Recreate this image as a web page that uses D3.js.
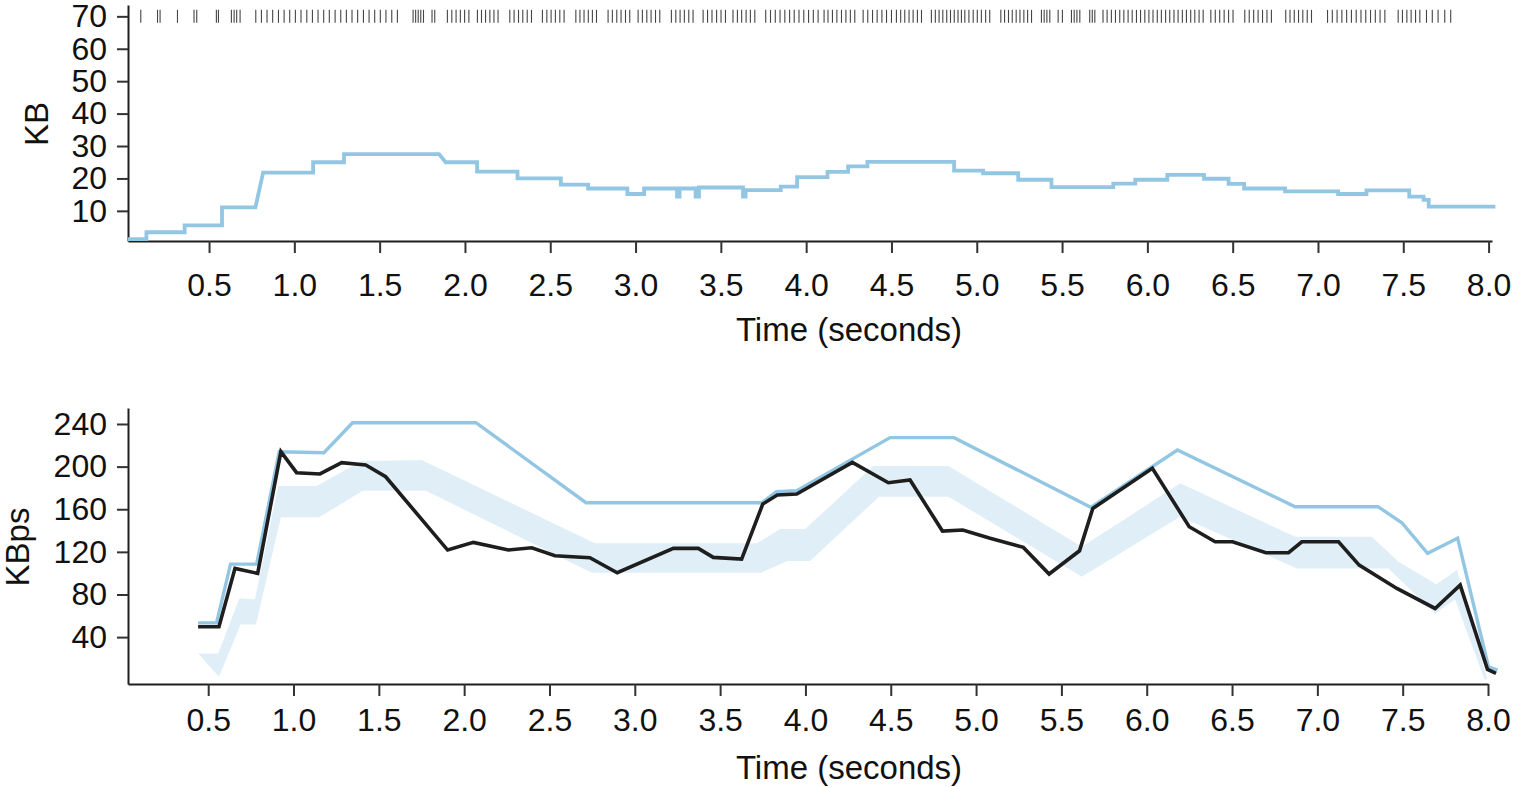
<!DOCTYPE html>
<html lang="en">
<head>
<meta charset="UTF-8">
<title>KB and KBps over time</title>
<style>
  body { margin: 0; background: #fff; }
  text { font-family: "Liberation Sans", Arial, Helvetica, sans-serif; fill: #111; }
</style>
</head>
<body>
<script src="https://d3js.org/d3.v7.min.js"></script>
<div id="chart"></div>
<script>
// ---- values ----
var timeTicks = [0.5, 1.0, 1.5, 2.0, 2.5, 3.0, 3.5, 4.0, 4.5, 5.0, 5.5, 6.0, 6.5, 7.0, 7.5, 8.0];
var kbTicks = [10, 20, 30, 40, 50, 60, 70];
var kbpsTicks = [40, 80, 120, 160, 200, 240];

// top panel: buffered KB (path vertices)
var kbTime = [0.025, 0.133, 0.133, 0.357, 0.357, 0.576, 0.576, 0.772, 0.817, 1.110, 1.110, 1.291, 1.291, 1.848, 1.887,
  2.071, 2.071, 2.308, 2.308, 2.562, 2.562, 2.722, 2.722, 2.952, 2.952, 3.050, 3.050, 3.243, 3.243, 3.258, 3.258,
  3.352, 3.352, 3.372, 3.372, 3.630, 3.630, 3.645, 3.645, 3.851, 3.851, 3.947, 3.947, 4.125, 4.125, 4.246, 4.246,
  4.359, 4.359, 4.867, 4.867, 5.037, 5.037, 5.243, 5.243, 5.438, 5.438, 5.800, 5.800, 5.929, 5.929, 6.117, 6.117,
  6.332, 6.332, 6.476, 6.476, 6.567, 6.567, 6.807, 6.807, 7.118, 7.118, 7.284, 7.284, 7.535, 7.535, 7.619, 7.619,
  7.649, 7.649, 8.040];
var kbSize = [1.3, 1.3, 3.4, 3.4, 5.5, 5.5, 11.1, 11.1, 21.8, 21.8, 25.0, 25.0, 27.5, 27.5, 25.0,
  25.0, 22.1, 22.1, 20.0, 20.0, 18.1, 18.1, 16.9, 16.9, 15.2, 15.2, 16.9, 16.9, 14.4, 14.4, 16.9,
  16.9, 14.4, 14.4, 17.2, 17.2, 14.4, 14.4, 16.4, 16.4, 17.5, 17.5, 20.4, 20.4, 22.0, 22.0, 23.7,
  23.7, 25.1, 25.1, 22.4, 22.4, 21.6, 21.6, 19.6, 19.6, 17.3, 17.3, 18.4, 18.4, 19.6, 19.6, 21.1,
  21.1, 19.9, 19.9, 18.3, 18.3, 16.9, 16.9, 16.0, 16.0, 15.2, 15.2, 16.3, 16.3, 14.4, 14.4, 13.4,
  13.4, 11.3, 11.3];

// top panel: packet arrival times (rug)
var rugTime = [0.100, 0.198, 0.213, 0.315, 0.412, 0.428, 0.543, 0.555, 0.631, 0.647, 0.662, 0.682,
  0.774, 0.807, 0.840, 0.873, 0.907, 0.940, 0.973, 1.006, 1.039, 1.073, 1.106, 1.139, 1.172, 1.205, 1.239,
  1.272, 1.305, 1.338, 1.371, 1.405, 1.438, 1.471, 1.504, 1.537, 1.571, 1.604,
  1.696, 1.711, 1.726, 1.741, 1.757, 1.807, 1.823,
  1.897, 1.923, 1.948, 1.973, 1.998, 2.023,
  2.073, 2.097, 2.121, 2.146, 2.170, 2.194,
  2.263, 2.288, 2.314, 2.339, 2.365, 2.390,
  2.454, 2.480, 2.505, 2.530, 2.556, 2.581,
  2.650, 2.674, 2.698, 2.723, 2.747, 2.771,
  2.839, 2.864, 2.890, 2.915, 2.941, 2.966,
  3.015, 3.040, 3.066, 3.091, 3.117, 3.142,
  3.210, 3.236, 3.261, 3.286, 3.312, 3.337,
  3.396, 3.422, 3.448, 3.475, 3.501, 3.527,
  3.571, 3.597, 3.622, 3.648, 3.673, 3.699,
  3.763, 3.791, 3.819, 3.847, 3.875, 3.903, 3.930, 3.958, 3.986, 4.014, 4.042, 4.070, 4.105,
  4.128, 4.154, 4.180, 4.207, 4.233, 4.259, 4.285,
  4.334, 4.361, 4.389, 4.416, 4.444, 4.471, 4.500,
  4.529, 4.554, 4.578, 4.603, 4.627, 4.652, 4.676,
  4.734, 4.757, 4.779, 4.801, 4.824, 4.846, 4.868, 4.890, 4.910,
  4.930, 4.954, 4.979, 5.003, 5.027, 5.052, 5.076,
  5.141, 5.163, 5.186, 5.208, 5.231, 5.253, 5.276, 5.298, 5.321,
  5.379, 5.395, 5.411, 5.428, 5.477, 5.502,
  5.555, 5.571, 5.587, 5.604, 5.662, 5.677, 5.692,
  5.740, 5.764, 5.789, 5.813, 5.838, 5.862, 5.887, 5.911, 5.936, 5.960, 5.985, 6.009, 6.033,
  6.058, 6.082, 6.107, 6.131, 6.156, 6.180, 6.205, 6.229, 6.254, 6.278, 6.303, 6.327,
  6.372, 6.398, 6.424, 6.450, 6.476, 6.502,
  6.571, 6.597, 6.623, 6.649, 6.675, 6.701, 6.727,
  6.811, 6.836, 6.861, 6.886, 6.911, 6.937, 6.962,
  7.056, 7.084, 7.112, 7.140, 7.168, 7.196, 7.224, 7.252, 7.280, 7.308, 7.336, 7.364, 7.392,
  7.470, 7.495, 7.521, 7.546, 7.572, 7.597,
  7.636, 7.670, 7.704, 7.743, 7.778];

// bottom panel: blue line
var blueTime = [0.441, 0.549, 0.631, 0.784, 0.916, 1.178, 1.346, 2.069, 2.714, 3.744, 3.830, 3.949, 4.496,
  4.871, 5.672, 6.180, 6.870, 7.355, 7.495, 7.646, 7.822, 8.003, 8.056];
var blueRate = [53.4, 53.4, 108.5, 108.5, 214, 213, 241.2, 241.2, 166.1, 166.1, 176.5, 177.4, 227.2,
  227.2, 161.8, 215.6, 162.4, 162.4, 147.3, 118.6, 132.7, 12.1, 9];

// bottom panel: black line
var blackTime = [0.441, 0.563, 0.657, 0.790, 0.926, 1.018, 1.155, 1.282, 1.423, 1.540, 1.903, 2.054, 2.259,
  2.396, 2.532, 2.737, 2.897, 3.226, 3.372, 3.460, 3.626, 3.750, 3.835, 3.949, 4.275, 4.486, 4.613, 4.803,
  4.922, 5.082, 5.277, 5.428, 5.606, 5.684, 6.033, 6.249, 6.401, 6.503, 6.698, 6.831, 6.909, 7.124, 7.245,
  7.466, 7.690, 7.837, 7.997, 8.047];
var blackRate = [49.7, 49.7, 104.5, 99.8, 214, 194.3, 193.1, 203.7, 201.5, 190.5, 121.7, 128.9, 121.7,
  123.8, 116.4, 114.5, 100.4, 123.3, 123.3, 114.8, 113.2, 164.9, 173.3, 174.3, 204, 184.9, 187.4, 139.5,
  140.5, 132.7, 124.2, 99.2, 121, 160.8, 198.4, 143.6, 129.5, 129.5, 119.2, 119.2, 129.5, 129.5, 107.6,
  85.7, 66.9, 88.8, 9.7, 5.9];

// bottom panel: shaded band, upper and lower edges
var bandHiTime = [0.441, 0.559, 0.682, 0.774, 0.910, 1.135, 1.399, 1.751, 2.767, 3.715, 3.852, 3.998, 4.398,
  4.838, 5.620, 6.196, 6.870, 7.319, 7.476, 7.697, 7.818, 7.994];
var bandHiRate = [24.7, 24.7, 76.3, 75.5, 181.8, 181.8, 205.3, 206.2, 128, 128, 141.4, 141.4, 200.6,
  200.6, 124.8, 184.3, 134.2, 134.2, 110.7, 89.5, 102.9, 1.2];
var bandLoTime = [0.441, 0.563, 0.690, 0.780, 0.926, 1.151, 1.405, 1.776, 2.747, 3.738, 3.894, 4.027, 4.431,
  4.838, 5.620, 6.196, 6.880, 7.417, 7.690, 7.807, 7.980];
var bandLoRate = [24.7, 2.7, 51.9, 51.9, 152.4, 152.4, 177.4, 177.4, 100.4, 100.4, 111.4, 111.4, 171.7,
  171.7, 96.6, 153, 104.5, 104.5, 62.2, 75.4, 0];

var width = 1516, height = 787;
var blue = "#92c6e3", band = "#e0eff7", ink = "#1e1e1e";

var svg = d3.select("#chart")
    .append("svg")
    .attr("width", width)
    .attr("height", height)
    .style("display", "block");

// scales
var x1 = d3.scaleLinear().domain([0.025, 8.02]).range([128, 1492]);
var y1 = d3.scaleLinear().domain([0.7, 73.5]).range([241, 5]);
var x2 = d3.scaleLinear().domain([0.03, 8.0]).range([128, 1488]);
var y2 = d3.scaleLinear().domain([-4, 255]).range([684, 408]);

function styleAxis(g) {
    g.select(".domain").attr("stroke", ink).attr("stroke-width", 2);
    g.selectAll(".tick line").attr("stroke", "#333").attr("stroke-width", 2);
    g.selectAll(".tick text")
        .style("font-family", '"Liberation Sans", Arial, Helvetica, sans-serif')
        .style("font-size", "32px")
        .attr("fill", "#111");
}

// ---- top panel ----
svg.append("g")
    .attr("transform", "translate(0," + y1.range()[0] + ")")
    .call(d3.axisBottom(x1).tickValues(timeTicks).tickFormat(d3.format(".1f"))
        .tickSize(12).tickSizeOuter(0).tickPadding(20))
    .call(styleAxis);

svg.append("g")
    .attr("transform", "translate(" + x1.range()[0] + ",0)")
    .call(d3.axisLeft(y1).tickValues(kbTicks).tickSize(11).tickSizeOuter(0).tickPadding(10))
    .call(styleAxis);

svg.append("g")
    .selectAll("line")
    .data(rugTime)
    .enter()
    .append("line")
    .attr("x1", function(d) { return x1(d); })
    .attr("x2", function(d) { return x1(d); })
    .attr("y1", y1(72))
    .attr("y2", y1(68))
    .attr("stroke", "#444")
    .attr("stroke-width", 1.1);

var kbPoints = kbTime.map(function(t, i) { return [t, kbSize[i]]; });
svg.append("path")
    .datum(kbPoints)
    .attr("d", d3.line()
        .x(function(d) { return x1(d[0]); })
        .y(function(d) { return y1(d[1]); }))
    .attr("fill", "none")
    .attr("stroke", blue)
    .attr("stroke-width", 3.8);

svg.append("text")
    .attr("transform", "translate(48,124) rotate(-90)")
    .attr("text-anchor", "middle")
    .style("font-size", "33px")
    .text("KB");

svg.append("text")
    .attr("x", 849)
    .attr("y", 341)
    .attr("text-anchor", "middle")
    .style("font-size", "33px")
    .text("Time (seconds)");

// ---- bottom panel ----
var hi = bandHiTime.map(function(t, i) { return [t, bandHiRate[i]]; });
var lo = bandLoTime.map(function(t, i) { return [t, bandLoRate[i]]; }).reverse();
var line2 = d3.line()
    .x(function(d) { return x2(d[0]); })
    .y(function(d) { return y2(d[1]); });

svg.append("path")
    .datum(hi.concat(lo))
    .attr("d", function(d) { return line2(d) + "Z"; })
    .attr("fill", band)
    .attr("stroke", "none");

svg.append("path")
    .datum(blueTime.map(function(t, i) { return [t, blueRate[i]]; }))
    .attr("d", line2)
    .attr("fill", "none")
    .attr("stroke", blue)
    .attr("stroke-width", 3.4);

svg.append("path")
    .datum(blackTime.map(function(t, i) { return [t, blackRate[i]]; }))
    .attr("d", line2)
    .attr("fill", "none")
    .attr("stroke", ink)
    .attr("stroke-width", 3.6);

svg.append("g")
    .attr("transform", "translate(0," + y2.range()[0] + ")")
    .call(d3.axisBottom(x2).tickValues(timeTicks).tickFormat(d3.format(".1f"))
        .tickSize(12).tickSizeOuter(0).tickPadding(12))
    .call(styleAxis);

svg.append("g")
    .attr("transform", "translate(" + x2.range()[0] + ",0)")
    .call(d3.axisLeft(y2).tickValues(kbpsTicks).tickSize(11).tickSizeOuter(0).tickPadding(10))
    .call(styleAxis);

svg.append("text")
    .attr("transform", "translate(29,547) rotate(-90)")
    .attr("text-anchor", "middle")
    .style("font-size", "33px")
    .text("KBps");

svg.append("text")
    .attr("x", 849)
    .attr("y", 779)
    .attr("text-anchor", "middle")
    .style("font-size", "33px")
    .text("Time (seconds)");
</script>
</body>
</html>
